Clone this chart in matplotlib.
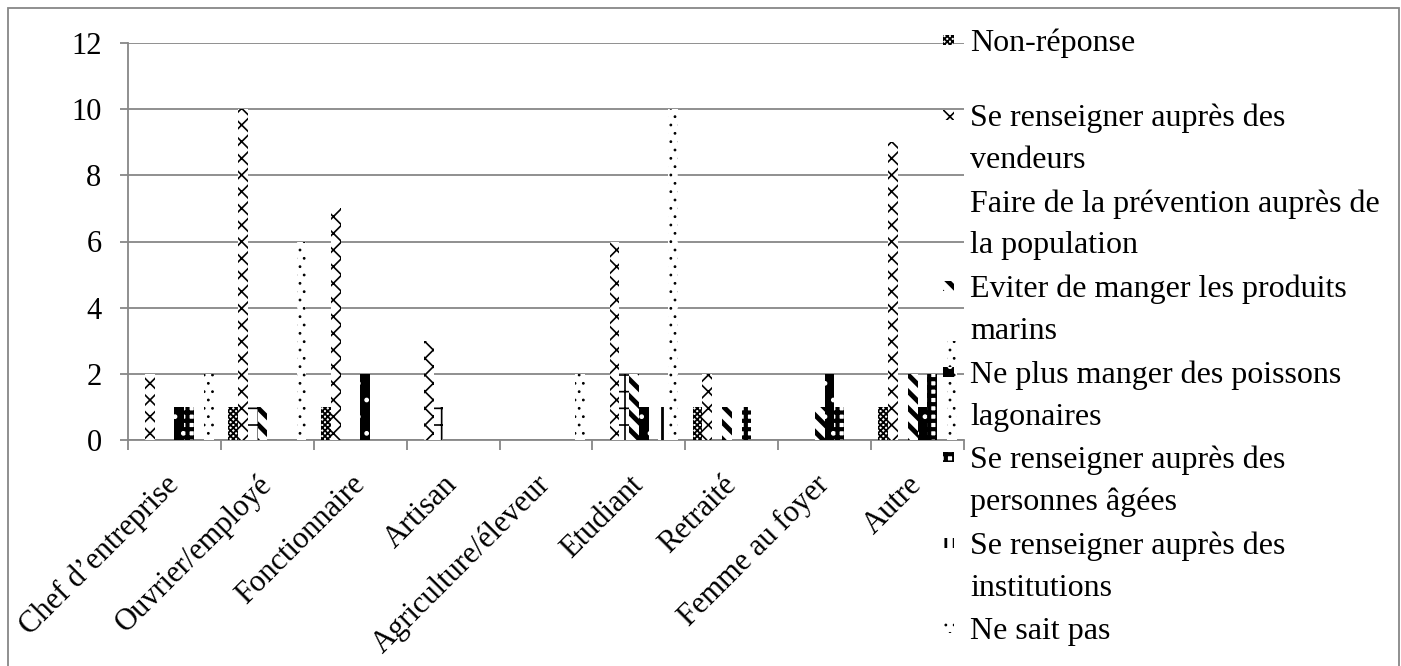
import numpy as np
import matplotlib
matplotlib.use("Agg")
import matplotlib.pyplot as plt
from matplotlib.patches import Rectangle

plt.rcParams['font.family'] = ['Liberation Serif', 'DejaVu Serif']

categories = ["Chef d’entreprise", "Ouvrier/employé", "Fonctionnaire", "Artisan",
              "Agriculture/éleveur", "Etudiant", "Retraité", "Femme au foyer", "Autre"]

series_names = ["Non-réponse",
                "Se renseigner auprès des\nvendeurs",
                "Faire de la prévention auprès de\nla population",
                "Eviter de manger les produits\nmarins",
                "Ne plus manger des poissons\nlagonaires",
                "Se renseigner auprès des\npersonnes âgées",
                "Se renseigner auprès des\ninstitutions",
                "Ne sait pas"]

non_reponse = [0, 1, 1, 0, 0, 0, 1, 0, 1]
vendeurs = [2, 10, 7, 3, 0, 6, 2, 0, 9]
prevention = [0, 1, 0, 1, 0, 2, 0, 0, 0]
eviter = [0, 1, 0, 0, 0, 2, 1, 1, 2]
ne_plus_manger = [1, 0, 2, 0, 0, 1, 0, 2, 1]
personnes_agees = [1, 0, 0, 0, 0, 0, 1, 1, 2]
institutions = [0, 0, 0, 0, 0, 1, 0, 0, 0]
ne_sait_pas = [2, 6, 0, 0, 2, 10, 0, 0, 3]

valeurs = [non_reponse, vendeurs, prevention, eviter,
           ne_plus_manger, personnes_agees, institutions, ne_sait_pas]

# motifs noir et blanc (face, couleur du motif, motif, epaisseur du motif)
styles = [
    ("white", "black", "xxxxxx", 1.3),
    ("white", "black", "xx", 1.2),
    ("white", "black", "+", 1.2),
    ("white", "black", "\\\\", 3.5),
    ("black", "white", ".", 1.0),
    ("white", "black", "++", 3.0),
    ("white", "black", "||", 2.0),
    ("white", "black", "..", 0.8),
]

W, H = 1401, 666
fig = plt.figure(figsize=(W / 100, H / 100), dpi=100)
ax = fig.add_axes([128 / W, 1 - 440 / H, (964 - 128) / W, (440 - 43) / H])

gris = "#878787"
x = np.arange(len(categories))
n = len(valeurs)
w = 1 / (n + 1.5)

for j, (vals, name, st) in enumerate(zip(valeurs, series_names, styles)):
    face, hc, hatch, hlw = st
    with plt.rc_context({'hatch.linewidth': hlw}):
        ax.bar(x + (j - (n - 1) / 2) * w, vals, width=w, facecolor=face,
               edgecolor=hc, linewidth=0, hatch=hatch, label=name, zorder=3)

ax.set_xlim(-0.5, len(categories) - 0.5)
ax.set_ylim(0, 12)
ax.set_yticks(np.arange(0, 13, 2))
ax.yaxis.grid(True, color=gris, linewidth=1.3)
ax.set_axisbelow(True)

for s in ["top", "right"]:
    ax.spines[s].set_visible(False)
for s in ["left", "bottom"]:
    ax.spines[s].set_color(gris)
    ax.spines[s].set_linewidth(1.3)

ax.tick_params(axis='y', length=6, width=1.3, color=gris, pad=13, labelsize=22)
ax.set_xticks(x)
ax.set_xticks(np.arange(-0.5, len(categories), 1), minor=True)
ax.tick_params(axis='x', which='major', length=0, pad=29, labelsize=22)
ax.tick_params(axis='x', which='minor', length=7, width=1.3, color=gris)
ax.set_xticklabels(categories, rotation=45, ha='right', va='center',
                   rotation_mode='anchor')

# legende faite a la main (marqueur aligne sur la premiere ligne, comme Excel)
ligne = 42
pas = 85.5
y_prem = 115
for j, (name, st) in enumerate(zip(series_names, styles)):
    face, hc, hatch, hlw = st
    y = 40 if j == 0 else y_prem + (j - 1) * pas
    with plt.rc_context({'hatch.linewidth': hlw}):
        fig.add_artist(Rectangle((943 / W, 1 - (y + 5) / H), 11 / W, 10 / H,
                                 transform=fig.transFigure, facecolor=face,
                                 edgecolor=hc, linewidth=0, hatch=hatch))
    for k, morceau in enumerate(name.split("\n")):
        fig.text(970 / W, 1 - (y + k * ligne) / H, morceau, fontsize=23,
                 va='center_baseline', ha='left')

fig.patches.append(Rectangle((8 / W, -0.02), (1399 - 8) / W, 1.02 - 8 / H,
                             transform=fig.transFigure, fill=False,
                             edgecolor=gris, linewidth=1.3))

fig.savefig("out.png", dpi=100)
